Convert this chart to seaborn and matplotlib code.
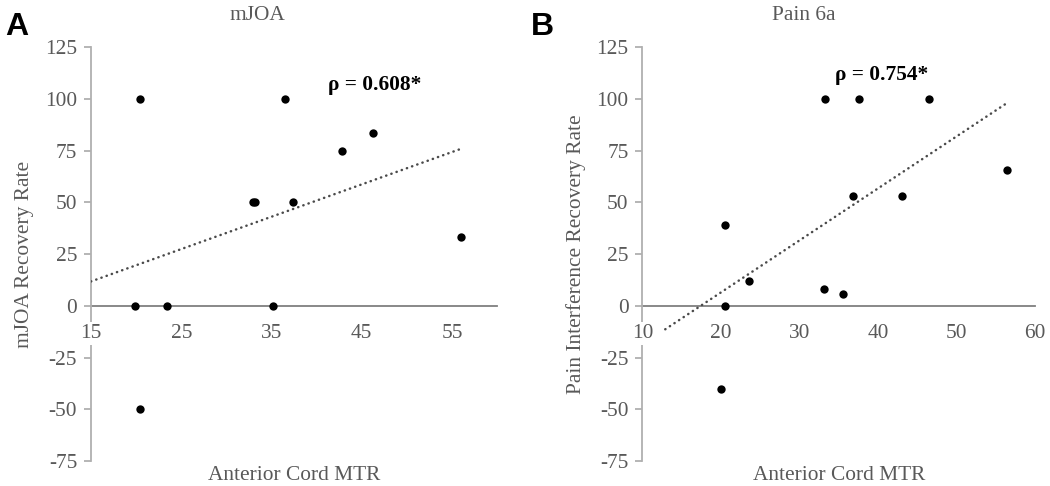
import numpy as np
import pandas as pd
import matplotlib
matplotlib.use("Agg")
import matplotlib.pyplot as plt
import seaborn as sns

# ---- data ----
mtr_a = [20.4, 36.5, 42.8, 46.2, 32.9, 33.2, 37.4, 56.0, 19.9, 23.45, 35.2, 20.4]
mjoa_rate = [100, 100, 75, 83.3, 50, 50, 50, 33.3, 0, 0, 0, -50]

mtr_b = [33.3, 37.6, 46.5, 36.8, 43.1, 56.4, 20.55, 23.6, 33.1, 35.5, 20.55, 20.0]
pain_rate = [100, 100, 100, 53.0, 53.1, 65.7, 39.1, 12.2, 8.2, 5.6, 0, -40]

titles = ["mJOA", "Pain 6a"]
ylabels = ["mJOA Recovery Rate", "Pain Interference Recovery Rate"]
xlabel = "Anterior Cord MTR"
rho_texts = ["ρ = 0.608*", "ρ = 0.754*"]
panel_letters = ["A", "B"]
xticks_a = [15, 25, 35, 45, 55]
xticks_b = [10, 20, 30, 40, 50, 60]
yticks = [-75, -50, -25, 0, 25, 50, 75, 100, 125]

sns.set_style("white")
plt.rcParams['font.family'] = ['Liberation Serif', 'DejaVu Serif']
plt.rcParams['axes.unicode_minus'] = False

GRAY_TXT = "#595959"
GRAY_Y = "#b0b0b0"
GRAY_X = "#7f7f7f"
FS = 15.4

fig = plt.figure(figsize=(10.5, 4.86), dpi=100)

panels = [
    dict(x=mtr_a, y=mjoa_rate, pos=[0.0867, 0.0514, 0.3867, 0.8519], xlim=(15, 60),
         xticks=xticks_a, trend_start=15.0, title_x=0.245, rho_xy=(375, 85),
         letter_x=0.005, ylab_x=0.023),
    dict(x=mtr_b, y=pain_rate, pos=[0.6119, 0.0514, 0.3738, 0.8519], xlim=(10, 60),
         xticks=xticks_b, trend_start=12.9, title_x=0.765, rho_xy=(882, 75),
         letter_x=0.506, ylab_x=0.549),
]

for i, p in enumerate(panels):
    ax = fig.add_axes(p["pos"])
    df = pd.DataFrame({"x": p["x"], "y": p["y"]})
    # trendline (least squares)
    slope, intercept = np.polyfit(df["x"], df["y"], 1)
    tx = np.array([p["trend_start"], df["x"].max()])
    ax.plot(tx, slope * tx + intercept, linestyle=(0, (0.1, 2.1)), color="#4a4a4a",
            linewidth=1.8, dash_capstyle="round", solid_capstyle="round", zorder=3)
    sns.scatterplot(data=df, x="x", y="y", ax=ax, color="black", s=36,
                    edgecolor="black", linewidth=0, zorder=5)
    ax.set_xlim(*p["xlim"])
    ax.set_ylim(-75, 125)
    ax.set_xticks(p["xticks"])
    ax.set_yticks(yticks)
    ax.set_xlabel("")
    ax.set_ylabel("")
    for s in ["top", "right"]:
        ax.spines[s].set_visible(False)
    ax.spines["left"].set_color(GRAY_Y)
    ax.spines["left"].set_linewidth(1.3)
    ax.spines["bottom"].set_position(("data", 0))
    ax.spines["bottom"].set_color(GRAY_X)
    ax.spines["bottom"].set_linewidth(1.3)
    ax.spines["bottom"].set_zorder(2)
    ax.tick_params(axis="y", which="major", direction="out", length=5, width=1.3,
                   color=GRAY_Y, labelcolor=GRAY_TXT, labelsize=FS, pad=5, left=True)
    ax.tick_params(axis="x", which="major", length=0, labelcolor=GRAY_TXT,
                   labelsize=FS, pad=13)
    ax.xaxis.set_zorder(4)
    for lab in ax.get_xticklabels():
        lab.set_bbox(dict(facecolor="white", edgecolor="none", pad=1.5))

    # ylabel
    fig.text(p["ylab_x"], 0.4774, ylabels[i], rotation=90, ha="center", va="center",
             color=GRAY_TXT, fontsize=FS)
    # xlabel
    cx = p["pos"][0] + p["pos"][2] / 2
    fig.text(cx, 1 - 475 / 486, xlabel, ha="center", va="center",
             color=GRAY_TXT, fontsize=FS)
    # title
    fig.text(p["title_x"], 1 - 15 / 486, titles[i], ha="center", va="center",
             color=GRAY_TXT, fontsize=FS)
    # rho annotation
    fig.text(p["rho_xy"][0] / 1050, 1 - p["rho_xy"][1] / 486, rho_texts[i],
             ha="center", va="center", color="black", fontsize=FS, fontweight="bold")
    # panel letter
    fig.text(p["letter_x"], 1 - 27 / 486, panel_letters[i], ha="left", va="center",
             color="black", fontsize=23, fontweight="bold",
             family=["Liberation Sans", "DejaVu Sans"])

fig.savefig("out.png", dpi=100, facecolor="white")
